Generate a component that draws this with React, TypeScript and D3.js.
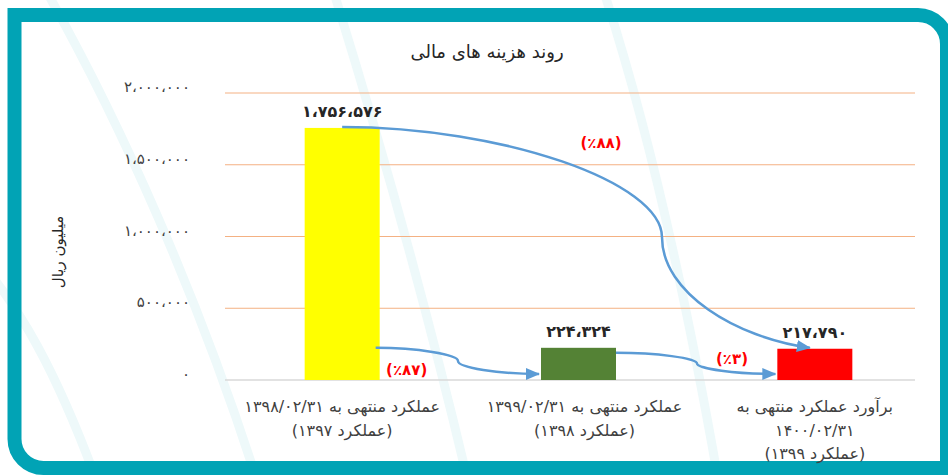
import * as d3 from 'd3';

const W = 948;
const H = 475;

const categories = ['c1397', 'c1398', 'c1399'];
const values = [1756576, 224324, 217790];
const valueLabels = ['۱،۷۵۶،۵۷۶', '۲۲۴،۳۲۴', '۲۱۷،۷۹۰'];
const barColors = ['#FFFF00', '#548235', '#FF0000'];
const catLines = [
  ['عملکرد منتهی به ۱۳۹۸/۰۲/۳۱', '(عملکرد ۱۳۹۷)'],
  ['عملکرد منتهی به ۱۳۹۹/۰۲/۳۱', '(عملکرد ۱۳۹۸)'],
  ['برآورد عملکرد منتهی به', '۱۴۰۰/۰۲/۳۱', '(عملکرد ۱۳۹۹)'],
];
const yTicks = [0, 500000, 1000000, 1500000, 2000000];
const yTickLabels = ['۰', '۵۰۰،۰۰۰', '۱،۰۰۰،۰۰۰', '۱،۵۰۰،۰۰۰', '۲،۰۰۰،۰۰۰'];
const pctLabels = ['(٪۸۸)', '(٪۸۷)', '(٪۳)'];

const title = 'روند هزینه های مالی';
const yTitle = 'میلیون ریال';

const FONT = "'DejaVu Sans', sans-serif";
const TEAL = '#01a3b5';
const ARROW = '#5B9BD5';

export default function App() {
  const plot = { left: 225, right: 915, top: 93, bottom: 380 };
  const x = d3.scalePoint<string>().domain(categories).range([224, 933]).padding(0.5);
  const y = d3.scaleLinear().domain([0, 2000000]).range([plot.bottom, plot.top]);
  const bw = 75;
  const xc = categories.map(c => x(c) as number);

  // curved connector like office "curvedConnector3"
  const connector = (x1: number, y1: number, x2: number, y2: number, mx: number, endDy = 0) => {
    const my = (y1 + y2) / 2;
    const p = d3.path();
    p.moveTo(x1, y1);
    p.bezierCurveTo((x1 + mx) / 2, y1, mx, (y1 + my) / 2, mx, my);
    p.bezierCurveTo(mx, (my + y2) / 2, (mx + x2) / 2, y2 - endDy, x2, y2);
    return p.toString();
  };

  const a1 = connector(xc[0], y(values[0]) - 1, xc[2] - 5, y(values[2]) - 1, 662, 10);
  const a2 = connector(xc[0] + bw / 2 - 4, y(values[1]), xc[1] - bw / 2 - 2, y(0) - 6, 458);
  const a3 = connector(xc[1] + bw / 2, y(values[1]) + 5, xc[2] - bw / 2 - 2, y(0) - 6, 697);

  const stripes = [
    'M40,-20 C120,120 200,300 260,490',
    'M330,-20 C380,140 430,320 470,490',
    'M600,-20 C640,100 680,260 720,490',
    'M-40,240 C20,300 60,380 100,490',
  ];

  const r = 29;
  const frame = `M14.5,15 L${947 - r},15 A${r},${r} 0 0 1 947,${15 + r} L947,468 L${14.5 + r},468 A${r},${r} 0 0 1 14.5,${468 - r} Z`;

  return (
    <svg width={W} height={H} style={{ position: 'absolute', left: 0, top: 0 }} fontFamily={FONT}>
      <defs>
        <marker id="arr" markerUnits="userSpaceOnUse" markerWidth="14" markerHeight="12"
          viewBox="0 0 14 12" refX="13" refY="6" orient="auto">
          <path d="M0,0 L14,6 L0,12 Z" fill={ARROW} />
        </marker>
      </defs>
      <rect width={W} height={H} fill="#ffffff" />
      <g fill="none" stroke="#eef9fa" strokeWidth={9}>
        {stripes.map((d, i) => <path key={i} d={d} />)}
      </g>
      <path d={frame} fill="none" stroke={TEAL} strokeWidth={14} />

      <text x={487} y={58} textAnchor="middle" direction="rtl" fontSize={18} fill="#262626">{title}</text>

      {yTicks.map((t, i) => (
        <g key={t}>
          {t > 0 && <line x1={plot.left} x2={plot.right} y1={y(t)} y2={y(t)} stroke="#F4B183" strokeWidth={1} />}
          <text x={190} y={y(t) - 1} textAnchor="end" fontSize={15} letterSpacing={3.5} fill="#404040">{yTickLabels[i]}</text>
        </g>
      ))}
      <line x1={plot.left} x2={plot.right} y1={y(0)} y2={y(0)} stroke="#D9D9D9" strokeWidth={1.5} />

      <text transform={`translate(63,252) rotate(-90)`} textAnchor="middle" direction="rtl" fontSize={15} fill="#262626">{yTitle}</text>

      {categories.map((c, i) => (
        <g key={c}>
          <rect x={xc[i] - bw / 2} y={y(values[i])} width={bw} height={y(0) - y(values[i])} fill={barColors[i]} />
          <text x={xc[i]} y={y(values[i]) - 11} textAnchor="middle" fontSize={16} fontWeight="bold" fill="#262626">{valueLabels[i]}</text>
          {catLines[i].map((ln, j) => (
            <text key={j} x={xc[i] + (i === 1 ? 6 : 0)} y={412 + j * 23.5} textAnchor="middle" direction="rtl" fontSize={16} fill="#404040">{ln}</text>
          ))}
        </g>
      ))}

      <g fill="none" stroke={ARROW} strokeWidth={2.5} markerEnd="url(#arr)">
        <path d={a1} />
        <path d={a2} />
        <path d={a3} />
      </g>

      <g fontSize={15} fontWeight="bold" fill="#FF0000" textAnchor="middle">
        <text x={601} y={148}>{pctLabels[0]}</text>
        <text x={xc[0] + bw / 2 + 27} y={375}>{pctLabels[1]}</text>
        <text x={732} y={364}>{pctLabels[2]}</text>
      </g>
    </svg>
  );
}
